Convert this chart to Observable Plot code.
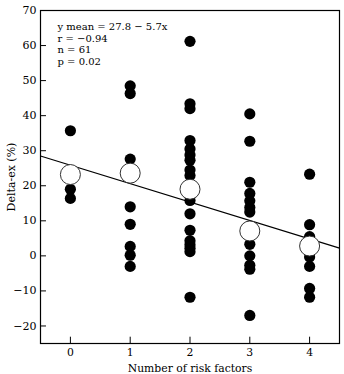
<!DOCTYPE html>
<html>
<head>
<meta charset="utf-8">
<script src="https://cdn.jsdelivr.net/npm/d3@7"></script>
<script src="https://cdn.jsdelivr.net/npm/@observablehq/plot@0.6"></script>
<style>
  html, body { margin: 0; padding: 0; background: white; }
</style>
</head>
<body>
<div id="chart"></div>
<script>
// Number of risk factors (x categories)
const riskFactors = [0, 1, 2, 3, 4];
// Individual Delta-ex values (%) per number of risk factors
const values0 = [35.7, 19.0, 16.4];
const values1 = [48.5, 46.3, 27.6, 14.0, 9.0, 2.7, 0.2, -3.0];
const values2 = [61.2, 43.4, 42.0, 32.9, 30.5, 28.8, 27.3, 24.5, 22.9, 15.8, 12.0, 7.3, 4.3, 3.2, 2.2, 1.2, -11.8];
const values3 = [40.5, 32.7, 21.0, 17.8, 15.7, 13.8, 12.5, 3.3, 0.0, -2.7, -3.8, -17.0];
const values4 = [23.3, 8.9, 5.5, -0.3, -3.0, -9.3, -11.8];
// Group means (open circles)
const groupMeans = [23.2, 23.6, 19.0, 7.1, 2.8];
// Regression line endpoints
const lineX = [-0.5, 4.5];
const lineY = [28.5, 2.2];
// Axis ticks
const yTicks = [-20, -10, 0, 10, 20, 30, 40, 50, 60, 70];
const xTicks = [0, 1, 2, 3, 4];
// Statistics text
const statLines = ["y mean = 27.8 − 5.7x", "r = −0.94", "n = 61", "p = 0.02"];

const columns = [values0, values1, values2, values3, values4];
const points = columns.flatMap((vals, i) => vals.map(v => ({x: riskFactors[i], y: v})));
const means = riskFactors.map((x, i) => ({x, y: groupMeans[i]}));
const regression = lineX.map((x, i) => ({x, y: lineY[i]}));

const xDomain = [-0.5, 4.5];
const yDomain = [-25, 70];

const chart = Plot.plot({
  width: 344,
  height: 374,
  marginLeft: 40,
  marginRight: 5,
  marginTop: 10,
  marginBottom: 31,
  style: {fontFamily: "DejaVu Serif, serif", fontSize: "11px", color: "black", background: "white"},
  x: {domain: xDomain},
  y: {domain: yDomain},
  marks: [
    Plot.frame({stroke: "black", strokeWidth: 1.2}),
    Plot.ruleY(yTicks, {x1: xDomain[0], x2: xDomain[0] + 0.1, stroke: "black"}),
    Plot.ruleX(xTicks, {y1: yDomain[0], y2: yDomain[0] + 1.8, stroke: "black"}),
    Plot.axisY(yTicks, {tickSize: 0, tickPadding: 4, tickFormat: d => d < 0 ? "−" + Math.abs(d) : String(d),
      label: "Delta-ex (%)", labelAnchor: "center", labelArrow: "none", labelOffset: 33, fontSize: 11, fill: "black"}),
    Plot.axisX(xTicks, {tickSize: 0, tickPadding: 5, label: "Number of risk factors", labelAnchor: "center",
      labelArrow: "none", labelOffset: 28, fontSize: 10.8, fill: "black"}),
    Plot.line(regression, {x: "x", y: "y", stroke: "black", strokeWidth: 1.2}),
    Plot.dot(points, {x: "x", y: "y", r: 5.6, fill: "black", stroke: "none"}),
    Plot.dot(means, {x: "x", y: "y", r: 10, fill: "white", stroke: "#333", strokeWidth: 1}),
    Plot.text([statLines.join("\n")], {frameAnchor: "top-left", dx: 17, dy: 11, textAnchor: "start",
      lineAnchor: "top", lineHeight: 1.17, fontSize: 10, fill: "black"})
  ]
});
document.getElementById("chart").appendChild(chart);
</script>
</body>
</html>
